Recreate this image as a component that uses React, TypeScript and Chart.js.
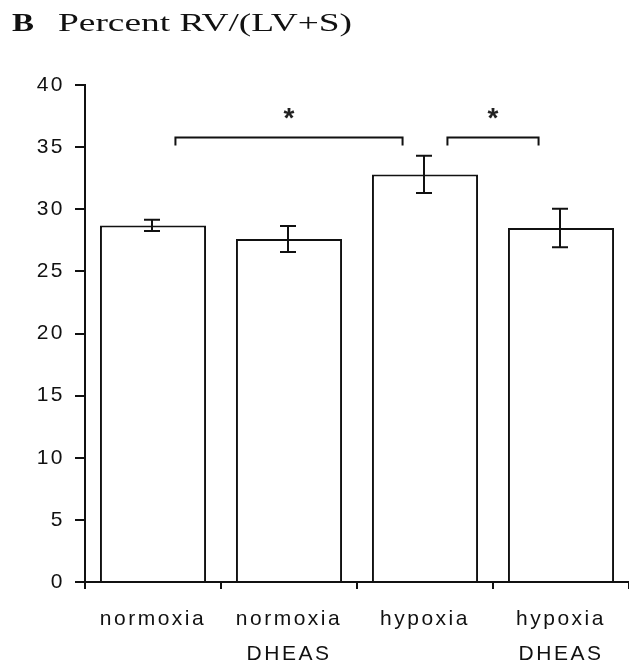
import React, { useEffect, useRef } from 'react';
import { Chart, registerables } from 'chart.js';

Chart.register(...registerables);

// ---- data ----
const categories: string[][] = [['normoxia'], ['normoxia', 'DHEAS'], ['hypoxia'], ['hypoxia', 'DHEAS']];
const means: number[] = [28.7, 27.6, 32.8, 28.5];
const sem: number[] = [0.45, 1.05, 1.5, 1.55];
const yMin = 0;
const yMax = 40;
const yStep = 5;
const bracketFrom: number[] = [0, 2];
const bracketTo: number[] = [2, 3];
const bracketLevel: number[] = [35.85, 35.85];
const bracketMark: string[] = ['*', '*'];
const panelLetter = 'B';
const titleText = 'Percent RV/(LV+S)';

const SANS = '"Liberation Sans", Arial, Helvetica, sans-serif';
const SERIF = '"Liberation Serif", "Times New Roman", serif';

const overlay = {
  id: 'overlay',
  beforeDraw(chart: any) {
    chart.ctx.letterSpacing = '2.5px';
  },
  beforeDatasetsDraw(chart: any) {
    chart.ctx.letterSpacing = '0px';
  },
  afterDatasetsDraw(chart: any) {
    const ctx = chart.ctx as CanvasRenderingContext2D;
    const x = chart.scales.x;
    const y = chart.scales.y;
    ctx.save();
    ctx.letterSpacing = '0px';
    ctx.strokeStyle = '#111';
    ctx.lineWidth = 2;
    // error bars
    const cap = 8;
    means.forEach((m, i) => {
      const px = Math.round(x.getPixelForValue(i)) - 1;
      const top = y.getPixelForValue(m + sem[i]);
      const bot = y.getPixelForValue(m - sem[i]);
      ctx.beginPath();
      ctx.moveTo(px, top);
      ctx.lineTo(px, bot);
      ctx.moveTo(px - cap, top);
      ctx.lineTo(px + cap, top);
      ctx.moveTo(px - cap, bot);
      ctx.lineTo(px + cap, bot);
      ctx.stroke();
    });
    // significance brackets
    const catW = x.getPixelForValue(1) - x.getPixelForValue(0);
    const inset = catW * 0.165;
    bracketFrom.forEach((a, k) => {
      const b = bracketTo[k];
      const x1 = x.getPixelForValue(a) + inset;
      const x2 = x.getPixelForValue(b) - inset;
      const by = Math.round(y.getPixelForValue(bracketLevel[k])) + 0.5;
      ctx.beginPath();
      ctx.moveTo(x1, by + 8);
      ctx.lineTo(x1, by);
      ctx.lineTo(x2, by);
      ctx.lineTo(x2, by + 8);
      ctx.stroke();
      ctx.fillStyle = '#222';
      ctx.font = 'bold 28px ' + SANS;
      ctx.textAlign = 'center';
      ctx.textBaseline = 'alphabetic';
      ctx.fillText(bracketMark[k], (x1 + x2) / 2, by - 11);
    });
    ctx.restore();
  },
  afterDraw(chart: any) {
    const ctx = chart.ctx as CanvasRenderingContext2D;
    ctx.save();
    ctx.letterSpacing = '0px';
    ctx.fillStyle = '#111';
    ctx.textBaseline = 'alphabetic';
    ctx.textAlign = 'left';
    // panel letter
    ctx.font = 'bold 25px ' + SERIF;
    const wb = ctx.measureText(panelLetter).width;
    ctx.save();
    ctx.translate(12, 31);
    ctx.scale(22 / wb, 1);
    ctx.fillText(panelLetter, 0, 0);
    ctx.restore();
    // title
    ctx.font = '25px ' + SERIF;
    const wt = ctx.measureText(titleText).width;
    ctx.save();
    ctx.translate(58, 31);
    ctx.scale(294 / wt, 1);
    ctx.fillText(titleText, 0, 0);
    ctx.restore();
    ctx.restore();
  },
};

export default function App() {
  const ref = useRef<HTMLCanvasElement | null>(null);
  useEffect(() => {
    if (!ref.current) return;
    const chart = new Chart(ref.current, {
      type: 'bar',
      data: {
        labels: categories,
        datasets: [
          {
            data: means,
            backgroundColor: '#ffffff',
            borderColor: '#111111',
            borderWidth: 2,
            borderSkipped: 'bottom',
            categoryPercentage: 1,
            barPercentage: 0.78,
          },
        ],
      },
      options: {
        animation: false,
        responsive: false,
        devicePixelRatio: 1,
        layout: { padding: { top: 85, left: 0, right: 0, bottom: 0 } },
        plugins: {
          legend: { display: false },
          tooltip: { enabled: false },
          title: { display: false },
        },
        scales: {
          x: {
            offset: true,
            grid: {
              offset: true,
              drawOnChartArea: false,
              drawTicks: true,
              tickLength: 7,
              color: '#111',
              lineWidth: 2,
            },
            border: { display: true, color: '#111', width: 2, z: 1 },
            ticks: {
              color: '#111',
              padding: 13,
              maxRotation: 0,
              autoSkip: false,
              font: { family: SANS, size: 21, lineHeight: '35px' },
            },
            afterFit: (s: any) => {
              s.height = 89;
            },
          },
          y: {
            min: yMin,
            max: yMax,
            grid: {
              drawOnChartArea: false,
              drawTicks: true,
              tickLength: 10,
              color: '#111',
              lineWidth: 2,
            },
            border: { display: true, color: '#111', width: 2, z: 1 },
            ticks: {
              stepSize: yStep,
              color: '#111',
              padding: 10,
              font: { family: SANS, size: 21 },
            },
            afterFit: (s: any) => {
              s.width = 85;
            },
          },
        },
      },
      plugins: [overlay],
    });
    return () => chart.destroy();
  }, []);
  return (
    <div style={{ position: 'absolute', left: 0, top: 0, width: 629, height: 671, background: '#fff' }}>
      <canvas ref={ref} width={629} height={671} style={{ display: 'block' }} />
    </div>
  );
}
